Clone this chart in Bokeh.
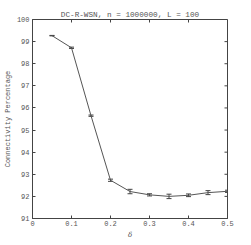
import math
from bokeh.plotting import figure
from bokeh.models import LinearAxis, Range1d, Whisker, TeeHead, ColumnDataSource, FixedTicker, Title
from bokeh.embed import file_html
from bokeh.resources import INLINE

delta = [0.05, 0.10, 0.15, 0.20, 0.25, 0.30, 0.35, 0.40, 0.45, 0.50]
conn = [99.27, 98.72, 95.65, 92.73, 92.22, 92.07, 92.00, 92.05, 92.17, 92.23]
err = [0.01, 0.03, 0.03, 0.05, 0.10, 0.05, 0.10, 0.06, 0.09, 0.05]
xticks = [0, 0.1, 0.2, 0.3, 0.4, 0.5]
yticks = [91, 92, 93, 94, 95, 96, 97, 98, 99, 100]
xmin, xmax = 0, 0.5
ymin, ymax = 91, 100

src = ColumnDataSource(dict(x=delta, y=conn,
                            lo=[c - e for c, e in zip(conn, err)],
                            hi=[c + e for c, e in zip(conn, err)]))

FONT = "Liberation Mono"
TXT = "#555555"
AX = "#444444"

p = figure(width=251, height=245, output_backend="svg", toolbar_location=None,
           x_range=Range1d(xmin, xmax), y_range=Range1d(ymin, ymax),
           min_border_left=32, min_border_right=24, min_border_top=19, min_border_bottom=27,
           x_axis_location=None, y_axis_location=None)
p.grid.visible = False
p.outline_line_color = AX
p.background_fill_color = "white"
p.border_fill_color = "white"

def mk(axis):
    axis.major_tick_in = 3
    axis.major_tick_out = 0
    axis.minor_tick_line_color = None
    axis.axis_line_color = AX
    axis.major_tick_line_color = AX
    axis.major_label_text_font = FONT
    axis.major_label_text_font_size = "7px"
    axis.major_label_text_color = TXT
    axis.major_label_standoff = 3
    axis.axis_label_text_font = FONT
    axis.axis_label_text_font_size = "7px"
    axis.axis_label_text_color = TXT
    axis.axis_label_text_font_style = "normal"
    axis.axis_label_standoff = 2
    return axis

xb = mk(LinearAxis(ticker=FixedTicker(ticks=xticks), axis_label="δ"))
xb.axis_label_text_font = "DejaVu Serif"
xb.axis_label_text_font_style = "italic"
xb.major_label_standoff = 2
xb.axis_label_standoff = 2
xb.major_label_overrides = {0: "0"}
yl = mk(LinearAxis(ticker=FixedTicker(ticks=yticks), axis_label="Connectivity Percentage"))
p.add_layout(xb, "below")
p.add_layout(yl, "left")

# inward ticks along the top and right edges of the box
p.ray(x=xticks, y=[ymax] * len(xticks), length=3, length_units="screen",
      angle=-math.pi / 2, line_color=AX, line_width=1)
p.ray(x=[xmax] * len(yticks), y=yticks, length=3, length_units="screen",
      angle=math.pi, line_color=AX, line_width=1)

p.title = Title(text="DC-R-WSN, n = 1000000, L = 100", align="center",
                text_font=FONT, text_font_size="7.7px", text_color=TXT,
                text_font_style="normal", standoff=2)

p.line("x", "y", source=src, line_color="#555555", line_width=1)
w = Whisker(source=src, base="x", lower="lo", upper="hi",
            line_color="#444444", line_width=1,
            lower_head=TeeHead(size=5, line_color="#444444", line_width=1),
            upper_head=TeeHead(size=5, line_color="#444444", line_width=1))
p.add_layout(w)

open("out.html", "w").write(file_html(p, INLINE))
